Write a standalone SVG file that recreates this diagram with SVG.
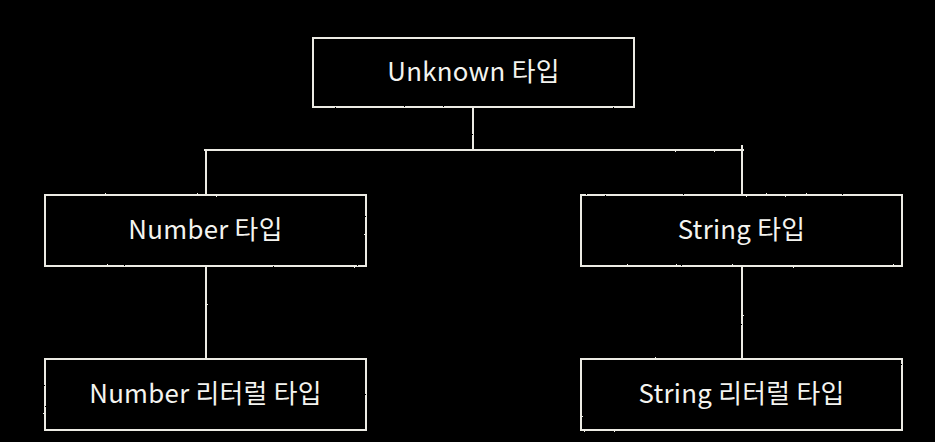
<svg xmlns="http://www.w3.org/2000/svg" width="935" height="442" viewBox="0 0 935 442">
<defs>
<filter id="rough" x="-5%" y="-5%" width="110%" height="110%">
<feTurbulence type="fractalNoise" baseFrequency="0.9" numOctaves="2" seed="3" result="n"/>
<feDisplacementMap in="SourceGraphic" in2="n" scale="1.6" xChannelSelector="R" yChannelSelector="G"/>
</filter>
</defs>
<style>
.box{fill:#000;stroke:#ecebe4;stroke-width:2;}
.line{fill:none;stroke:#ecebe4;stroke-width:2;}
.lbl{fill:#f4f4f0;font-family:"Noto Sans CJK KR","Noto Sans",sans-serif;font-size:25.8px;font-weight:400;letter-spacing:0.3px;text-anchor:middle;}
</style>
<rect x="0" y="0" width="935" height="442" fill="#000"/>
<g id="connectors" filter="url(#rough)">
<path class="line" d="M473,107 V150"/>
<path class="line" d="M204,150 H744"/>
<path class="line" d="M742,145 V195"/>
<path class="line" d="M206,150 V195"/>
<path class="line" d="M206,266 V359"/>
<path class="line" d="M742,266 V359"/>
</g>
<g id="unknown">
<rect class="box" x="313" y="38" width="321" height="69" filter="url(#rough)"/>
<text class="lbl" x="473.5" y="81">Unknown 타입</text>
</g>
<g id="number">
<rect class="box" x="45" y="195" width="321" height="71" filter="url(#rough)"/>
<text class="lbl" x="205.5" y="239">Number 타입</text>
</g>
<g id="string">
<rect class="box" x="581" y="195" width="321" height="71" filter="url(#rough)"/>
<text class="lbl" x="741.5" y="239">String 타입</text>
</g>
<g id="number-literal">
<rect class="box" x="45" y="359" width="321" height="71" filter="url(#rough)"/>
<text class="lbl" x="205.5" y="403">Number 리터럴 타입</text>
</g>
<g id="string-literal">
<rect class="box" x="581" y="359" width="321" height="71" filter="url(#rough)"/>
<text class="lbl" x="741.5" y="403">String 리터럴 타입</text>
</g>
</svg>
